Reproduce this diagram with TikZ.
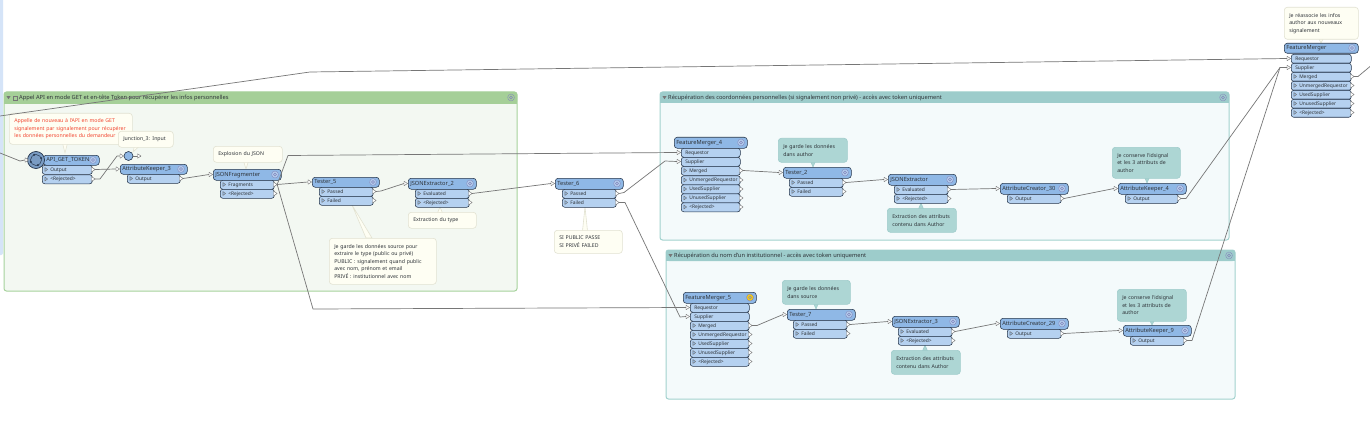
\documentclass[tikz,border=0pt]{standalone}
\usepackage{fontspec}
\setmainfont{Noto Sans}
\definecolor{hdr}{HTML}{8FB8E6}
\definecolor{prt}{HTML}{B5D1F0}
\definecolor{edgeb}{HTML}{24344A}
\definecolor{wire}{HTML}{767676}
\definecolor{notey}{HTML}{FEFEF3}
\definecolor{noteyb}{HTML}{E2E2D2}
\definecolor{notet}{HTML}{ADD6D4}
\definecolor{notetb}{HTML}{9FCCCB}
\definecolor{txt}{HTML}{2E3338}
\definecolor{redt}{HTML}{F2452F}
\definecolor{ghead}{HTML}{A5CF98}
\definecolor{gbody}{HTML}{F3F8F2}
\definecolor{gedge}{HTML}{A6D29C}
\definecolor{thead}{HTML}{9DCCCB}
\definecolor{tbody}{HTML}{F4FAFB}
\definecolor{tedge}{HTML}{A2D2CE}
\definecolor{sidebar}{HTML}{D5E4F8}
\newcommand{\ttl}{\fontsize{5.7}{7}\selectfont}
\newcommand{\ptf}{\fontsize{4.9}{7}\selectfont}
\newcommand{\ntf}{\fontsize{5.2}{7.5}\selectfont}
\tikzset{
 x=1pt,y=1pt,
 wirel/.style={draw=wire,line width=.7pt,line join=round},
 headbox/.style={draw=edgeb,fill=hdr,line width=.55pt,rounded corners=3pt,anchor=north west,inner xsep=2pt,inner ysep=0pt,align=left,font=\ttl,text=txt,text height=4.2pt,text depth=1.2pt},
 portbox/.style={draw=edgeb,fill=prt,line width=.55pt,rounded corners=2.5pt,anchor=north west,inner ysep=0pt,align=left,font=\ptf,text=txt,text height=3.8pt,text depth=1.1pt},
 notebox/.style={rounded corners=3pt,anchor=north west,inner xsep=5pt,inner ysep=0pt,align=left,font=\ntf,text=txt,line width=.6pt},
 ynote/.style={notebox,draw=noteyb,fill=notey},
 tnote/.style={notebox,draw=notetb,fill=notet},
 ytail/.style={draw=noteyb,fill=notey,line width=.6pt},
 ttail/.style={draw=notetb,fill=notet,line width=.6pt},
 btitle/.style={anchor=west,font=\ttl,text=txt,inner sep=0pt},
 junc/.style={circle,draw=edgeb,fill=hdr,line width=.6pt,minimum size=9pt,inner sep=0pt},
 apinode/.style={circle,draw=edgeb,fill=hdr!85!black,line width=.7pt,minimum size=17pt,inner sep=0pt},
 tri/.style={draw=wire,fill=white,line width=.45pt,line join=round},
 gearl/.style={draw=wire!70!blue!70!white,line width=.5pt},
}
% name x1 x2 y1 y2 title
\newcommand{\fmeHead}[6]{%
 \pgfmathsetmacro{\hA}{#5-#4}\pgfmathsetmacro{\tA}{#3-#2-4}%
 \node[headbox,minimum height=\hA pt,text width=\tA pt] (#1) at (#2,-#4) {#6};%
 \pgfmathsetmacro{\gx}{#3-6}\pgfmathsetmacro{\gy}{-(#4+#5)/2}%
 \fmeGear{\gx}{\gy}{hdr!70!white}%
}
\newcommand{\fmeGear}[3]{%
 \draw[gearl,fill=#3,dash pattern=on 1pt off .5pt] (#1,#2) circle (3.4pt);%
 \draw[gearl,fill=#3] (#1,#2) circle (1.5pt);%
}
% input triangle: name x y
\newcommand{\fmeIn}[3]{%
 \pgfmathsetmacro{\ia}{#2-4}\pgfmathsetmacro{\ib}{-#3}%
 \coordinate (#1) at (\ia,\ib);%
 \draw[tri] (\ia,\ib+2.2) -- (\ia+3.6,\ib) -- (\ia,\ib-2.2) -- cycle;%
}
% port: name x1 x2 y1 label
\newcommand{\fmePort}[5]{%
 \pgfmathsetmacro{\tA}{#3-#2}\pgfmathsetmacro{\py}{-#4-4.5}%
 \node[portbox,minimum height=9pt,text width=\tA pt,inner xsep=0pt] (#1) at (#2,-#4) {\hspace*{8pt}\mbox{#5}};%
 \draw[tri,fill=hdr] (#2+2.8,\py+2) -- (#2+5.6,\py) -- (#2+2.8,\py-2) -- cycle;%
 \coordinate (#1o) at (#3+3.2,\py);%
 \draw[tri] (#3-.5,\py+2.4) -- (#3+3.2,\py) -- (#3-.5,\py-2.4) -- cycle;%
}
% port without output (input port): name x1 x2 y1 label
\newcommand{\fmeInPort}[5]{%
 \pgfmathsetmacro{\tA}{#3-#2}\pgfmathsetmacro{\py}{#4+4.5}%
 \node[portbox,minimum height=9pt,text width=\tA pt,inner xsep=0pt] (#1) at (#2,-#4) {\hspace*{4pt}#5};%
 \fmeIn{#1i}{#2}{\py}%
}
\newcommand{\fmeTail}[5]{\path[#1] (#2-2.5,-#3) -- (#4,-#5) -- (#2+2.5,-#3) -- cycle;}
% style name x1 y1 x2 y2 text
\newcommand{\fmeNote}[7]{%
 \pgfmathsetmacro{\hA}{#6-#4}\pgfmathsetmacro{\tA}{#5-#3-10}%
 \node[#1,minimum height=\hA pt,text width=\tA pt] (#2) at (#3,-#4) {#7};%
}
% head body edge x1 y1 x2 y2 ybar
\newcommand{\fmeBook}[8]{%
 \draw[draw=#3,fill=#2,line width=1pt,rounded corners=2.5pt] (#4,-#5) rectangle (#6,-#7);%
 \path[fill=#1,rounded corners=2.5pt] (#4,-#5) rectangle (#6,-#8);%
 \path[fill=#1] (#4,-#8+3) rectangle (#6,-#8);%
 \fmeGear{#6-6}{-#5-5.5}{#1}%
 \path[fill=wire] (#4+2.5,-#5-4.2) -- (#4+6.5,-#5-4.2) -- (#4+4.5,-#5-7.2) -- cycle;%
}
\begin{document}
\begin{tikzpicture}
\useasboundingbox (0,0) rectangle (1370,-425);
\fill[white] (0,0) rectangle (1370,-425);
\fill[sidebar,rounded corners=2pt] (-3,3) rectangle (3,-255);
% bookmarks
\fmeBook{ghead}{gbody}{gedge}{4}{92}{517}{291}{104}
\fmeBook{thead}{tbody}{tedge}{660}{92}{1229}{240}{103}
\fmeBook{thead}{tbody}{tedge}{666}{250}{1235}{399}{261}
\draw[wire,line width=.4pt] (13,-100.5) rectangle (17,-96.5);
\node[btitle] (b1) at (19,-98) {Appel API en mode GET et en-tête Token pour récupérer les infos personnelles};
\node[btitle] (b2) at (668,-98) {Récupération des coordonnées personnelles (si signalement non privé) - accès avec token uniquement};
\node[btitle] (b3) at (674,-256) {Récupération du nom d'un institutionnel - accès avec token uniquement};
% notes
\fmeTail{ytail}{65}{143}{65}{153}
\fmeNote{ynote}{n1}{9}{113}{132}{144}{\textcolor{redt}{Appelle de nouveau à l'API en mode GET\\signalement par signalement pour récupérer\\les données personnelles du demandeur}}
\fmeTail{ytail}{137}{146}{133}{152}
\fmeNote{ynote}{n2}{118}{131}{173}{147}{Junction\_3: Input}
\fmeTail{ytail}{246}{161}{246}{169}
\fmeNote{ynote}{n3}{213}{146}{282}{162}{Explosion du JSON}
\fmeTail{ytail}{440}{213}{440}{207}
\fmeNote{ynote}{n4}{408}{212}{476}{228}{Extraction du type}
\fmeTail{ytail}{585}{231}{585}{207}
\fmeNote{ynote}{n5}{554}{230}{622}{253}{SI PUBLIC PASSE\\SI PRIVÉ FAILED}
\path[ytail] (352,-205) -- (366,-238) -- (372,-238) -- cycle;
\fmeNote{ynote}{n6}{329}{238}{436}{284}{Je garde les données source pour\\extraire le type (public ou privé)\\PUBLIC : signalement quand public\\avec nom, prénom et email\\PRIVÉ : institutionnel avec nom}
\fmeTail{ttail}{813}{161}{813}{167}
\fmeNote{tnote}{n7}{778}{138}{847}{162}{Je garde les données\\dans author}
\fmeTail{ttail}{921}{209}{921}{203}
\fmeNote{tnote}{n8}{887}{208}{956}{232}{Extraction des attributs\\contenu dans Author}
\fmeTail{ttail}{1147}{177}{1147}{183}
\fmeNote{tnote}{n9}{1112}{147}{1180}{178}{Je conserve l'idsignal\\et les 3 attributs de\\author}
\fmeTail{ttail}{816}{303}{816}{309}
\fmeNote{tnote}{n10}{782}{280}{850}{304}{Je garde les données\\dans source}
\fmeTail{ttail}{925}{351}{925}{345}
\fmeNote{tnote}{n11}{891}{350}{960}{374}{Extraction des attributs\\contenu dans Author}
\fmeTail{ttail}{1152}{320}{1152}{325}
\fmeNote{tnote}{n12}{1117}{289}{1186}{321}{Je conserve l'idsignal\\et les 3 attributs de\\author}
\fmeTail{ytail}{1321}{38}{1321}{43}
\fmeNote{ynote}{n13}{1284}{7}{1358}{39}{Je réassocie les infos\\author aux nouveaux\\signalement}
% API_GET_TOKEN
\fmeHead{api}{43}{99}{155}{165}{\hspace*{1pt}API\_GET\_TOKEN}
\fmePort{apiO}{42}{92}{165}{Output}
\fmePort{apiR}{42}{92}{174.5}{<Rejected>}
\node[apinode] (apic) at (36,-160) {};
\draw[edgeb,line width=.5pt] (apic) circle (5.5pt);
\foreach \a in {20,110,200,290} \fill[edgeb] (apic)++(\a:5.5pt) circle (1pt);
\fmeIn{apii}{29}{160}
% Junction
\node[junc] (j3) at (128.5,-156) {};
\fmeIn{j3i}{124}{156}
\coordinate (j3o) at (141,-156);
% AttributeKeeper_3
\fmeHead{ak3}{120}{187}{164}{174}{AttributeKeeper\_3}
\fmeIn{ak3i}{120}{169}
\fmePort{ak3O}{127}{180}{174}{Output}
% JSONFragmenter
\fmeHead{jf}{213}{281}{169}{180}{JSONFragmenter}
\fmeIn{jfi}{213}{174.5}
\fmePort{jfF}{220}{274}{180}{Fragments}
\fmePort{jfR}{220}{274}{189}{<Rejected>}
% Tester_5
\fmeHead{t5}{312}{379}{177}{187}{Tester\_5}
\fmeIn{t5i}{312}{182}
\fmePort{t5P}{319}{373}{187}{Passed}
\fmePort{t5F}{319}{373}{196}{Failed}
% JSONExtractor_2
\fmeHead{je2}{408}{476}{178}{189}{JSONExtractor\_2}
\fmeIn{je2i}{408}{183.5}
\fmePort{je2E}{415}{469}{189}{Evaluated}
\fmePort{je2R}{415}{469}{198}{<Rejected>}
% Tester_6
\fmeHead{t6}{555}{623}{178}{189}{Tester\_6}
\fmeIn{t6i}{555}{183.5}
\fmePort{t6P}{562}{616}{189}{Passed}
\fmePort{t6F}{562}{616}{198}{Failed}
% FeatureMerger_4
\fmeHead{fm4}{674}{747}{137}{148}{FeatureMerger\_4}
\fmeInPort{fm4Q}{681}{740}{148}{Requestor}
\fmeInPort{fm4S}{681}{740}{157}{Supplier}
\fmePort{fm4M}{681}{740}{166}{Merged}
\fmePort{fm4U}{681}{740}{175.5}{UnmergedRequestor}
\fmePort{fm4L}{681}{740}{184.5}{UsedSupplier}
\fmePort{fm4N}{681}{740}{193.5}{UnusedSupplier}
\fmePort{fm4R}{681}{740}{202.5}{<Rejected>}
% Tester_2
\fmeHead{t2}{783}{851}{167}{178}{Tester\_2}
\fmeIn{t2i}{783}{172.5}
\fmePort{t2P}{789}{843}{178}{Passed}
\fmePort{t2F}{789}{843}{187}{Failed}
% JSONExtractor
\fmeHead{je}{888}{956}{174}{185}{JSONExtractor}
\fmeIn{jei}{888}{179.5}
\fmePort{jeE}{894}{948}{185}{Evaluated}
\fmePort{jeR}{894}{948}{194}{<Rejected>}
% AttributeCreator_30
\fmeHead{ac30}{1000}{1068}{183}{194}{AttributeCreator\_30}
\fmeIn{ac30i}{1000}{188.5}
\fmePort{ac30O}{1007}{1061}{194}{Output}
% AttributeKeeper_4
\fmeHead{ak4}{1118}{1186}{183}{194}{AttributeKeeper\_4}
\fmeIn{ak4i}{1118}{188.5}
\fmePort{ak4O}{1125}{1178}{194}{Output}
% FeatureMerger_5
\fmeHead{fm5}{683}{756}{292}{303}{FeatureMerger\_5}
\fmeGear{750}{-297.5}{yellow!70!orange}
\fmeInPort{fm5Q}{690}{749}{303}{Requestor}
\fmeInPort{fm5S}{690}{749}{312}{Supplier}
\fmePort{fm5M}{690}{749}{321}{Merged}
\fmePort{fm5U}{690}{749}{330}{UnmergedRequestor}
\fmePort{fm5L}{690}{749}{339}{UsedSupplier}
\fmePort{fm5N}{690}{749}{348}{UnusedSupplier}
\fmePort{fm5R}{690}{749}{357}{<Rejected>}
% Tester_7
\fmeHead{t7}{787}{855}{309}{320}{Tester\_7}
\fmeIn{t7i}{787}{314.5}
\fmePort{t7P}{793}{847}{320}{Passed}
\fmePort{t7F}{793}{847}{329}{Failed}
% JSONExtractor_3
\fmeHead{je3}{892}{959}{316}{327}{JSONExtractor\_3}
\fmeIn{je3i}{892}{321.5}
\fmePort{je3E}{898}{952}{327}{Evaluated}
\fmePort{je3R}{898}{952}{336}{<Rejected>}
% AttributeCreator_29
\fmeHead{ac29}{1000}{1068}{318}{329}{AttributeCreator\_29}
\fmeIn{ac29i}{1000}{323.5}
\fmePort{ac29O}{1007}{1061}{329}{Output}
% AttributeKeeper_9
\fmeHead{ak9}{1123}{1191}{325}{336}{AttributeKeeper\_9}
\fmeIn{ak9i}{1123}{330.5}
\fmePort{ak9O}{1130}{1184}{336}{Output}
% FeatureMerger
\fmeHead{fm}{1284}{1358}{43}{53}{FeatureMerger}
\fmeInPort{fmQ}{1291}{1351}{54}{Requestor}
\fmeInPort{fmS}{1291}{1351}{63}{Supplier}
\fmePort{fmM}{1291}{1351}{72}{Merged}
\fmePort{fmU}{1291}{1351}{81}{UnmergedRequestor}
\fmePort{fmL}{1291}{1351}{90}{UsedSupplier}
\fmePort{fmN}{1291}{1351}{99}{UnusedSupplier}
\fmePort{fmR}{1291}{1351}{108}{<Rejected>}
% free ends
\coordinate (fa) at (0,-116);
\coordinate (fb) at (0,-153);
\coordinate (fc) at (1370,-66.5);
% connectors
\draw[wirel] (fa) -- (310,-72) -- (fmQi);
\draw[wirel] (fb) -- (20,-161) -- (apii);
\draw[wirel] (apiOo) -- (ak3i);
\draw[wirel] (apiRo) -- (100,-179) -- (117,-156) -- (j3i);
\draw[wirel] (j3) -- (j3o);
\draw[tri] (137.5,-153.8) -- (141,-156) -- (137.5,-158.2) -- cycle;
\draw[wirel] (ak3Oo) -- (jfi);
\draw[wirel] (jfFo) -- (t5i);
\draw[wirel] (jfFo) -- (288,-155.5) -- (fm4Qi);
\draw[wirel] (jfFo) -- (313,-309) -- (fm5Qi);
\draw[wirel] (t5Po) -- (381,-191) -- (je2i);
\draw[wirel] (je2Eo) -- (t6i);
\draw[wirel] (t6Po) -- (624,-192.5) -- (665,-161) -- (fm4Si);
\draw[wirel] (t6Fo) -- (625,-202.5) -- (680,-317) -- (fm5Si);
\draw[wirel] (fm4Mo) -- (t2i);
\draw[wirel] (t2Po) -- (jei);
\draw[wirel] (jeEo) -- (ac30i);
\draw[wirel] (ac30Oo) -- (ak4i);
\draw[wirel] (ak4Oo) -- (1186,-198.5) -- (1280,-67.5) -- (fmSi);
\draw[wirel] (fm5Mo) -- (757,-325.5) -- (t7i);
\draw[wirel] (t7Po) -- (je3i);
\draw[wirel] (je3Eo) -- (ac29i);
\draw[wirel] (ac29Oo) -- (ak9i);
\draw[wirel] (ak9Oo) -- (1192,-340.5) -- (1280,-67.5) -- (fmSi);
\draw[wirel] (fmMo) -- (1358,-76.5) -- (fc);
\end{tikzpicture}
\end{document}
